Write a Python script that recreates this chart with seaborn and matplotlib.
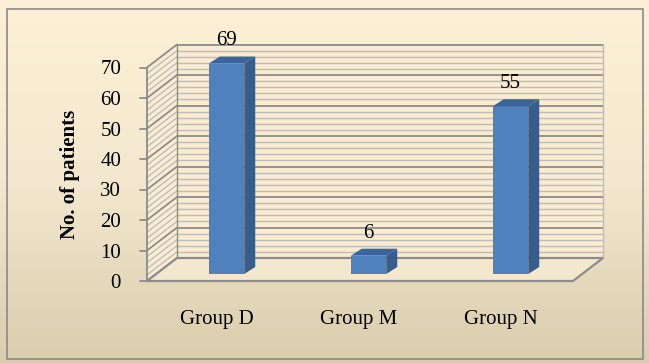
import numpy as np
import matplotlib
matplotlib.use("Agg")
import matplotlib.pyplot as plt
from matplotlib.patches import Polygon, Rectangle
import seaborn as sns

# data
groups = ["Group D", "Group M", "Group N"]
patients = [69, 6, 55]
y_ticks = [0, 10, 20, 30, 40, 50, 60, 70]

sns.set_theme(style="white")
plt.rcParams["font.family"] = ["Liberation Serif", "DejaVu Serif"]

W, H = 649, 363
fig = plt.figure(figsize=(W / 100, H / 100), dpi=100)

# background gradient + border
bg = fig.add_axes([0, 0, 1, 1], zorder=-5)
grad = np.linspace(0, 1, 256).reshape(-1, 1)
cmap = matplotlib.colors.LinearSegmentedColormap.from_list("bg", ["#FDF0D6", "#F3E8CF", "#DACDAD"])
bg.imshow(grad, aspect="auto", cmap=cmap, extent=[0, 1, 0, 1], origin="upper")
bg.set_xlim(0, 1)
bg.set_ylim(0, 1)
bg.add_patch(Rectangle((7 / W, 1 - 359 / H), 636 / W, 350 / H, fill=False,
                       ec="#8A8A8A", lw=1.2))
bg.axis("off")

# plot area in pixels (bar plane)
x0_px, step_px = 226.5, 142.0
y0_px, unit_px = 274.0, 3.05
xlim = (-0.62, 2.72)
ylim = (-3.0, 80.0)
left = x0_px + xlim[0] * step_px
right = x0_px + xlim[1] * step_px
bottom = y0_px - ylim[0] * unit_px
top = y0_px - ylim[1] * unit_px
ax = fig.add_axes([left / W, 1 - bottom / H, (right - left) / W, (bottom - top) / H])
ax.set_facecolor("none")
for s in ax.spines.values():
    s.set_visible(False)

def px_dx(p):
    return p / step_px

def px_dy(p):
    return -p / unit_px

front_dx, front_dy = px_dx(-9.5), px_dy(7)
back_dx, back_dy = px_dx(20.5), px_dy(-16)
bar_dx, bar_dy = px_dx(11), px_dy(-7)

fx0 = (147 - x0_px) / step_px
fx1 = (573 - x0_px) / step_px
ymax = y_ticks[-1]

# walls and floor
wall_c = "#FBEBD0"
bx0 = fx0 + back_dx - front_dx
bx1 = fx1 + back_dx - front_dx
ax.add_patch(Polygon([(bx0, back_dy), (bx1, back_dy), (bx1, ymax + back_dy), (bx0, ymax + back_dy)],
                     closed=True, fc=wall_c, ec="none", zorder=0, clip_on=False))
ax.add_patch(Polygon([(fx0, front_dy), (bx0, back_dy), (bx0, ymax + back_dy), (fx0, ymax + front_dy)],
                     closed=True, fc=wall_c, ec="none", zorder=0, clip_on=False))

for v in np.arange(0, ymax + 1, 2):
    major = v % 10 == 0
    c = "#8C8C8C" if major else "#BDBDBD"
    lw = 1.3 if major else 1.0
    ax.plot([bx0, bx1], [v + back_dy, v + back_dy], color=c, lw=lw, zorder=1, clip_on=False)
    ax.plot([fx0, bx0], [v + front_dy, v + back_dy], color=c, lw=lw, zorder=1, clip_on=False)

# wall edges
ax.plot([fx0, fx0], [front_dy, ymax + front_dy], color="#8C8C8C", lw=1.3, zorder=1, clip_on=False)
ax.plot([bx0, bx0], [back_dy, ymax + back_dy], color="#8C8C8C", lw=1.0, zorder=1, clip_on=False)
ax.plot([bx1, bx1], [back_dy, ymax + back_dy], color="#BDBDBD", lw=1.0, zorder=1, clip_on=False)

# floor
ax.add_patch(Polygon([(fx0, front_dy), (fx1, front_dy), (bx1, back_dy), (bx0, back_dy)],
                     closed=True, fc="#F3E8CE", ec="#8C8C8C", lw=1.6, zorder=1, clip_on=False))

# y-axis ticks at front plane
for v in y_ticks:
    ax.plot([fx0 - px_dx(7), fx0], [v + front_dy, v + front_dy], color="#8C8C8C", lw=1.3,
            zorder=2, clip_on=False)

# bars
sns.barplot(x=groups, y=patients, width=0.25, color="#4F81BD", saturation=1,
            edgecolor="none", ax=ax, zorder=3)
for p in list(ax.patches):
    if not isinstance(p, Rectangle) or p.get_width() > 0.5:
        continue
    x, y, w, h = p.get_x(), p.get_y(), p.get_width(), p.get_height()
    ax.add_patch(Polygon([(x + w, y), (x + w + bar_dx, y + bar_dy), (x + w + bar_dx, y + h + bar_dy),
                          (x + w, y + h)], closed=True, fc="#385D8A", ec="none", zorder=3))
    ax.add_patch(Polygon([(x, y + h), (x + w, y + h), (x + w + bar_dx, y + h + bar_dy),
                          (x + bar_dx, y + h + bar_dy)], closed=True, fc="#3A659B", ec="none", zorder=3))

for i, v in enumerate(patients):
    ax.text(i, v + 7.4, str(v), ha="center", va="center", fontsize=15, color="black")

ax.set_xlim(*xlim)
ax.set_ylim(*ylim)
ax.set_xticks([i + front_dx for i in range(len(groups))], labels=groups)
ax.set_yticks([v + front_dy for v in y_ticks], labels=[str(v) for v in y_ticks])
ax.tick_params(axis="x", length=0, pad=19, labelsize=15, colors="black")
ax.tick_params(axis="y", length=0, pad=12.5, labelsize=15, colors="black")
ax.set_xlabel("")
ax.set_ylabel("No. of patients", fontsize=15, fontweight="bold", color="black")
ax.yaxis.set_label_coords((80 - left) / (right - left), (bottom - 174) / (bottom - top))
ax.grid(False)

fig.savefig("out.png", dpi=100)
